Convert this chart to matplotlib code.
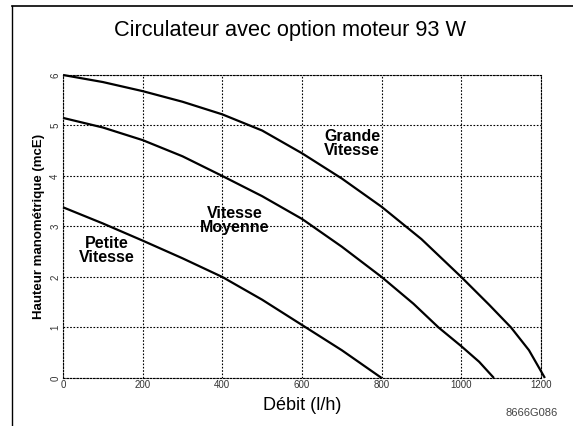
import matplotlib
matplotlib.use("Agg")
import matplotlib.pyplot as plt
from matplotlib.lines import Line2D

plt.rcParams['font.family'] = ['Liberation Sans', 'DejaVu Sans']

title = "Circulateur avec option moteur 93 W"
xlabel = "Débit (l/h)"
ylabel = "Hauteur manométrique (mcE)"
code = "8666G086"

x_ticks = [0, 200, 400, 600, 800, 1000, 1200]
y_ticks = [0, 1, 2, 3, 4, 5, 6]

grande_x = [0, 100, 200, 300, 400, 500, 600, 700, 800, 900, 1000, 1070, 1125, 1170, 1210]
grande_y = [6.0, 5.86, 5.68, 5.47, 5.22, 4.9, 4.45, 3.95, 3.39, 2.75, 2.0, 1.45, 1.0, 0.55, 0.0]

moyenne_x = [0, 100, 200, 300, 400, 500, 600, 700, 800, 880, 943, 1000, 1045, 1082]
moyenne_y = [5.15, 4.96, 4.71, 4.39, 4.0, 3.6, 3.15, 2.6, 2.0, 1.47, 1.0, 0.63, 0.32, 0.0]

petite_x = [0, 100, 200, 300, 400, 500, 600, 700, 800]
petite_y = [3.38, 3.06, 2.72, 2.37, 2.0, 1.55, 1.05, 0.55, 0.0]

labels = [("Grande\nVitesse", 726, 4.65),
          ("Vitesse\nMoyenne", 430, 3.12),
          ("Petite\nVitesse", 111, 2.52)]

fig = plt.figure(figsize=(5.73, 4.26), dpi=100)
ax = fig.add_axes([0.110, 0.1127, 0.834, 0.7113])

for xs, ys in [(grande_x, grande_y), (moyenne_x, moyenne_y), (petite_x, petite_y)]:
    ax.plot(xs, ys, color='black', lw=1.6, solid_capstyle='butt', zorder=3, clip_on=False)

for txt, x, y in labels:
    ax.text(x, y, txt, ha='center', va='center', fontsize=11.5, fontweight='bold',
            linespacing=0.9, zorder=4)

ax.set_xlim(0, 1200)
ax.set_ylim(0, 6)
ax.set_xticks(x_ticks)
ax.set_yticks(y_ticks)
ax.set_xticklabels([str(v) for v in x_ticks], fontsize=7, color='#333333')
ax.set_yticklabels([str(v) for v in y_ticks], fontsize=7, color='#333333', rotation=90, va='center')
ax.tick_params(axis='x', length=0, pad=1.5)
ax.tick_params(axis='y', length=0, pad=2)
ax.grid(True, color='black', linestyle=(0, (1.5, 1.5)), linewidth=0.8)
for s in ax.spines.values():
    s.set_linestyle((0, (1.5, 1.5)))
    s.set_linewidth(0.8)

ax.set_xlabel(xlabel, fontsize=13, labelpad=5)
ax.set_ylabel(ylabel, fontsize=9.5, fontweight='bold', labelpad=4)

fig.text(0.506, 0.929, title, ha='center', va='center', fontsize=15.7)
fig.text(0.974, 0.031, code, ha='right', va='center', fontsize=8, color='#444444')

# page frame lines (top and left)
fig.add_artist(Line2D([0.021, 1.0], [0.986, 0.986], transform=fig.transFigure, color='black', lw=1.2))
fig.add_artist(Line2D([0.021, 0.021], [0.0, 0.986], transform=fig.transFigure, color='black', lw=1.0))

fig.savefig("out.png", dpi=100)
